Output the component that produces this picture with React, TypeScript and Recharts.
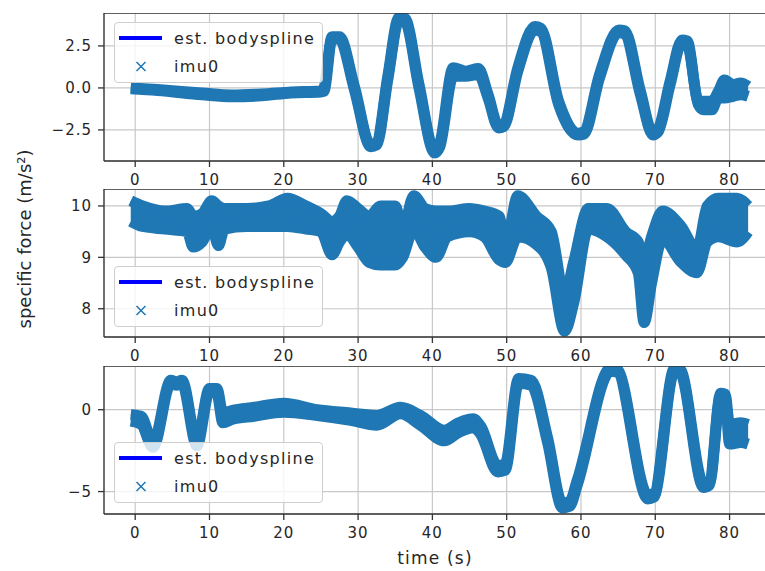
import React from "react";
import { Area, CartesianGrid, ComposedChart, ReferenceLine, XAxis, YAxis } from "recharts";

const seriesNames = ["est. bodyspline", "imu0"];
const timeTicks = [0, 10, 20, 30, 40, 50, 60, 70, 80];
const timeDomain: [number, number] = [-4.2, 86.6];

// panel 1 (x axis of accelerometer), band of imu0 samples: lower / upper edge
const t1 = [-0.6, 3, 9, 13, 17, 21, 25, 25.4, 26.5, 27.5, 29.5, 31.7, 32.5, 34, 35.5, 36.3, 38.2, 40.3, 41, 42.8, 44.5, 46.2, 47.5, 48.9, 49.6, 51.5, 53.8, 54.6, 57, 59.6, 60.4, 62.5, 65.1, 65.9, 68, 69.7, 70.4, 72, 73.6, 74.3, 75.8, 76.5, 77.6, 78.5, 79.3, 80.5, 81.5, 82.5];
const lo1 = [-0.05, -0.15, -0.41, -0.53, -0.47, -0.3, -0.24, -0.2, 2.95, 2.9, -0.1, -3.5, -3.4, 0.5, 4.0, 3.95, 0.0, -3.87, -3.5, 0.7, 0.7, 0.8, -0.6, -2.38, -2.3, 1.0, 3.45, 3.35, -1.0, -2.8, -2.75, 0.6, 3.3, 3.2, -0.4, -2.8, -2.6, 0.2, 2.7, 2.6, -1.0, -1.3, -1.3, -0.6, -0.6, -0.5, -0.4, -0.5];
const hi1 = [0.0, -0.1, -0.3, -0.42, -0.36, -0.24, -0.18, 0.0, 3.05, 3.05, 0.1, -3.4, -3.25, 0.7, 4.2, 4.15, 0.2, -3.75, -3.3, 1.2, 1.0, 1.15, -0.4, -2.25, -2.15, 1.2, 3.65, 3.55, -0.8, -2.7, -2.6, 0.8, 3.45, 3.4, -0.2, -2.7, -2.45, 0.4, 2.85, 2.8, -0.8, -0.8, -0.8, -0.2, 0.47, 0.2, 0.3, 0.1];
const yTicks1 = [-2.5, 0, 2.5];

// panel 2
const t2 = [-0.6, 1, 4, 7, 7.8, 9, 10.3, 11.2, 12, 15, 18, 20.5, 23, 25, 26.5, 27.5, 28.5, 30, 31.5, 33, 35, 36, 37.5, 39, 40.5, 42, 45, 47, 49, 49.8, 51.5, 54, 56, 57.8, 59, 61, 63.5, 66, 67.7, 68.5, 69.5, 71, 73.5, 75.6, 77, 78.5, 81, 82.5];
const lo2 = [9.7, 9.6, 9.55, 9.5, 9.2, 9.3, 9.6, 9.23, 9.55, 9.6, 9.6, 9.6, 9.55, 9.5, 9.05, 9.3, 9.45, 9.2, 8.9, 8.85, 8.85, 9.0, 9.55, 9.2, 9.0, 9.4, 9.5, 9.4, 8.95, 8.9, 9.4, 9.25, 8.8, 7.56, 8.1, 9.55, 9.4, 9.05, 8.7, 7.73, 8.5, 9.35, 8.9, 8.7, 9.3, 9.4, 9.3, 9.5];
const hi2 = [10.1, 10.0, 9.9, 9.95, 9.8, 9.85, 10.1, 10.0, 9.95, 9.95, 10.0, 10.15, 10.0, 9.85, 9.7, 9.8, 10.1, 9.95, 9.8, 10.0, 10.0, 9.55, 10.2, 9.95, 9.9, 9.9, 9.95, 9.9, 9.8, 9.2, 10.2, 9.8, 9.5, 8.25, 8.9, 9.95, 9.95, 9.5, 9.3, 8.9, 9.4, 9.9, 9.6, 9.15, 10.0, 10.15, 10.15, 10.0];
const yTicks2 = [8, 9, 10];

// panel 3
const t3 = [-0.6, 0.8, 2.4, 4.8, 5.5, 6.3, 8.3, 10.0, 11.0, 11.8, 13, 16, 20, 24.5, 29, 32.5, 35.7, 38.4, 41.6, 43.5, 45.5, 46.5, 48.8, 49.8, 51.6, 53.3, 55.5, 57.5, 58.5, 59.5, 64, 64.8, 69.0, 69.8, 72.6, 73.3, 76.5, 77.3, 78.8, 79.4, 80.0, 81.5, 82.5];
const lo3 = [-0.7, -0.9, -2.3, 1.6, 1.5, 1.6, -2.2, 1.1, 1.0, -0.8, -0.6, -0.4, -0.15, -0.35, -0.65, -0.95, -0.25, -0.95, -1.9, -1.4, -1.1, -1.5, -3.8, -3.7, 1.6, 1.5, -2.0, -6.0, -5.9, -4.6, 2.35, 2.3, -5.45, -5.35, 2.35, 2.3, -4.75, -4.6, 0.85, 0.8, -2.1, -2.0, -2.1];
const hi3 = [-0.3, -0.4, -2.0, 1.8, 1.7, 1.8, -1.9, 1.3, 1.3, -0.2, -0.05, 0.15, 0.4, 0.0, -0.2, -0.35, 0.15, -0.35, -1.25, -0.8, -0.55, -1.0, -3.4, -3.3, 1.9, 1.8, -1.7, -5.7, -5.6, -4.3, 2.55, 2.5, -5.2, -5.1, 2.55, 2.5, -4.5, -4.35, 1.0, 0.95, -0.9, -0.8, -0.9];
const yTicks3 = [-5, 0];

const blue = "#1f77b4";
const ink = "#262626";
const font = "DejaVu Sans";
const minus = (s: string) => s.replace("-", "\u2212");

function XTick(props: any) {
  const { x, y, payload } = props;
  return (
    <text x={x} y={y} dy="0.71em" textAnchor="middle" fill={ink} fontSize={15} fontFamily={font} letterSpacing={1}>
      {minus(String(payload.value))}
    </text>
  );
}

function makeYTick(fmt: (v: number) => string) {
  return (props: any) => {
    const { x, y, payload } = props;
    return (
      <text x={x} y={y} dy="0.36em" textAnchor="end" fill={ink} fontSize={15} fontFamily={font} letterSpacing={1}>
        {minus(fmt(payload.value))}
      </text>
    );
  };
}

type PanelProps = {
  t: number[];
  lo: number[];
  hi: number[];
  domain: [number, number];
  ticks: number[];
  fmt: (v: number) => string;
  top: number;
  axisHeight: number;
};

function Panel({ t, lo, hi, domain, ticks, fmt, top, axisHeight }: PanelProps) {
  const data = t.map((x, i) => ({ t: x, [seriesNames[1]]: [lo[i], hi[i]] }));
  return (
    <div style={{ position: "absolute", left: 0, top }}>
      <ComposedChart width={790} height={148 + axisHeight} data={data} margin={{ top: 0, right: 11.4, bottom: 0, left: 0 }}>
        <CartesianGrid stroke="#c8c8c8" strokeWidth={1.2} />
        <XAxis
          dataKey="t"
          type="number"
          domain={timeDomain}
          ticks={timeTicks}
          allowDataOverflow
          height={axisHeight}
          tickSize={6}
          tickMargin={7}
          tick={XTick}
          axisLine={{ stroke: "#333", strokeWidth: 1.3 }}
          tickLine={{ stroke: "#333", strokeWidth: 1.3 }}
        />
        <YAxis
          type="number"
          domain={domain}
          ticks={ticks}
          allowDataOverflow
          width={104}
          tickSize={6}
          tickMargin={6}
          tick={makeYTick(fmt)}
          axisLine={{ stroke: "#333", strokeWidth: 1.3 }}
          tickLine={{ stroke: "#333", strokeWidth: 1.3 }}
        />
        <Area
          dataKey={seriesNames[1]}
          type="monotoneX"
          fill={blue}
          fillOpacity={1}
          stroke={blue}
          strokeWidth={11}
          strokeLinejoin="round"
          dot={false}
          activeDot={false}
          isAnimationActive={false}
        />
        <ReferenceLine y={domain[1]} stroke="#333" strokeWidth={1.3} />
      </ComposedChart>
    </div>
  );
}

function LegendBox({ top }: { top: number }) {
  const textStyle = { fontFamily: font, fontSize: 16, fill: ink, letterSpacing: 1.3 };
  return (
    <div
      style={{
        position: "absolute",
        left: 114,
        top,
        width: 209,
        height: 61,
        boxSizing: "border-box",
        background: "rgba(255,255,255,0.8)",
        border: "1px solid #cfcfcf",
        borderRadius: 4,
      }}
    >
      <svg width={207} height={59} style={{ display: "block" }}>
        <line x1={4} x2={47} y1={15} y2={15} stroke="#0000ff" strokeWidth={4} />
        <text x={59} y={15} dy="0.36em" style={textStyle}>
          {seriesNames[0]}
        </text>
        <path d="M21.5 39 l9 9 M30.5 39 l-9 9" stroke={blue} strokeWidth={1.5} fill="none" />
        <text x={59} y={43.5} dy="0.36em" style={textStyle}>
          {seriesNames[1]}
        </text>
      </svg>
    </div>
  );
}

export default function App() {
  return (
    <div style={{ position: "fixed", left: 0, top: 0, width: 765, height: 571, overflow: "hidden", background: "#fff" }}>
      <Panel t={t1} lo={lo1} hi={hi1} domain={[-4.35, 4.46]} ticks={yTicks1} fmt={(v) => v.toFixed(1)} top={13} axisHeight={30} />
      <Panel t={t2} lo={lo2} hi={hi2} domain={[7.45, 10.33]} ticks={yTicks2} fmt={(v) => String(v)} top={189} axisHeight={30} />
      <Panel t={t3} lo={lo3} hi={hi3} domain={[-6.37, 2.67]} ticks={yTicks3} fmt={(v) => String(v)} top={366} axisHeight={56} />
      <LegendBox top={22} />
      <LegendBox top={266} />
      <LegendBox top={442} />
      <svg width={765} height={571} style={{ position: "absolute", left: 0, top: 0, pointerEvents: "none" }}>
        <text x={435} y={564} textAnchor="middle" fill={ink} fontSize={17} fontFamily={font} letterSpacing={1.2}>
          time (s)
        </text>
        <text
          transform="translate(31,239) rotate(-90)"
          textAnchor="middle"
          fill={ink}
          fontSize={18}
          fontFamily={font}
        >
          specific force (m/s²)
        </text>
      </svg>
    </div>
  );
}
